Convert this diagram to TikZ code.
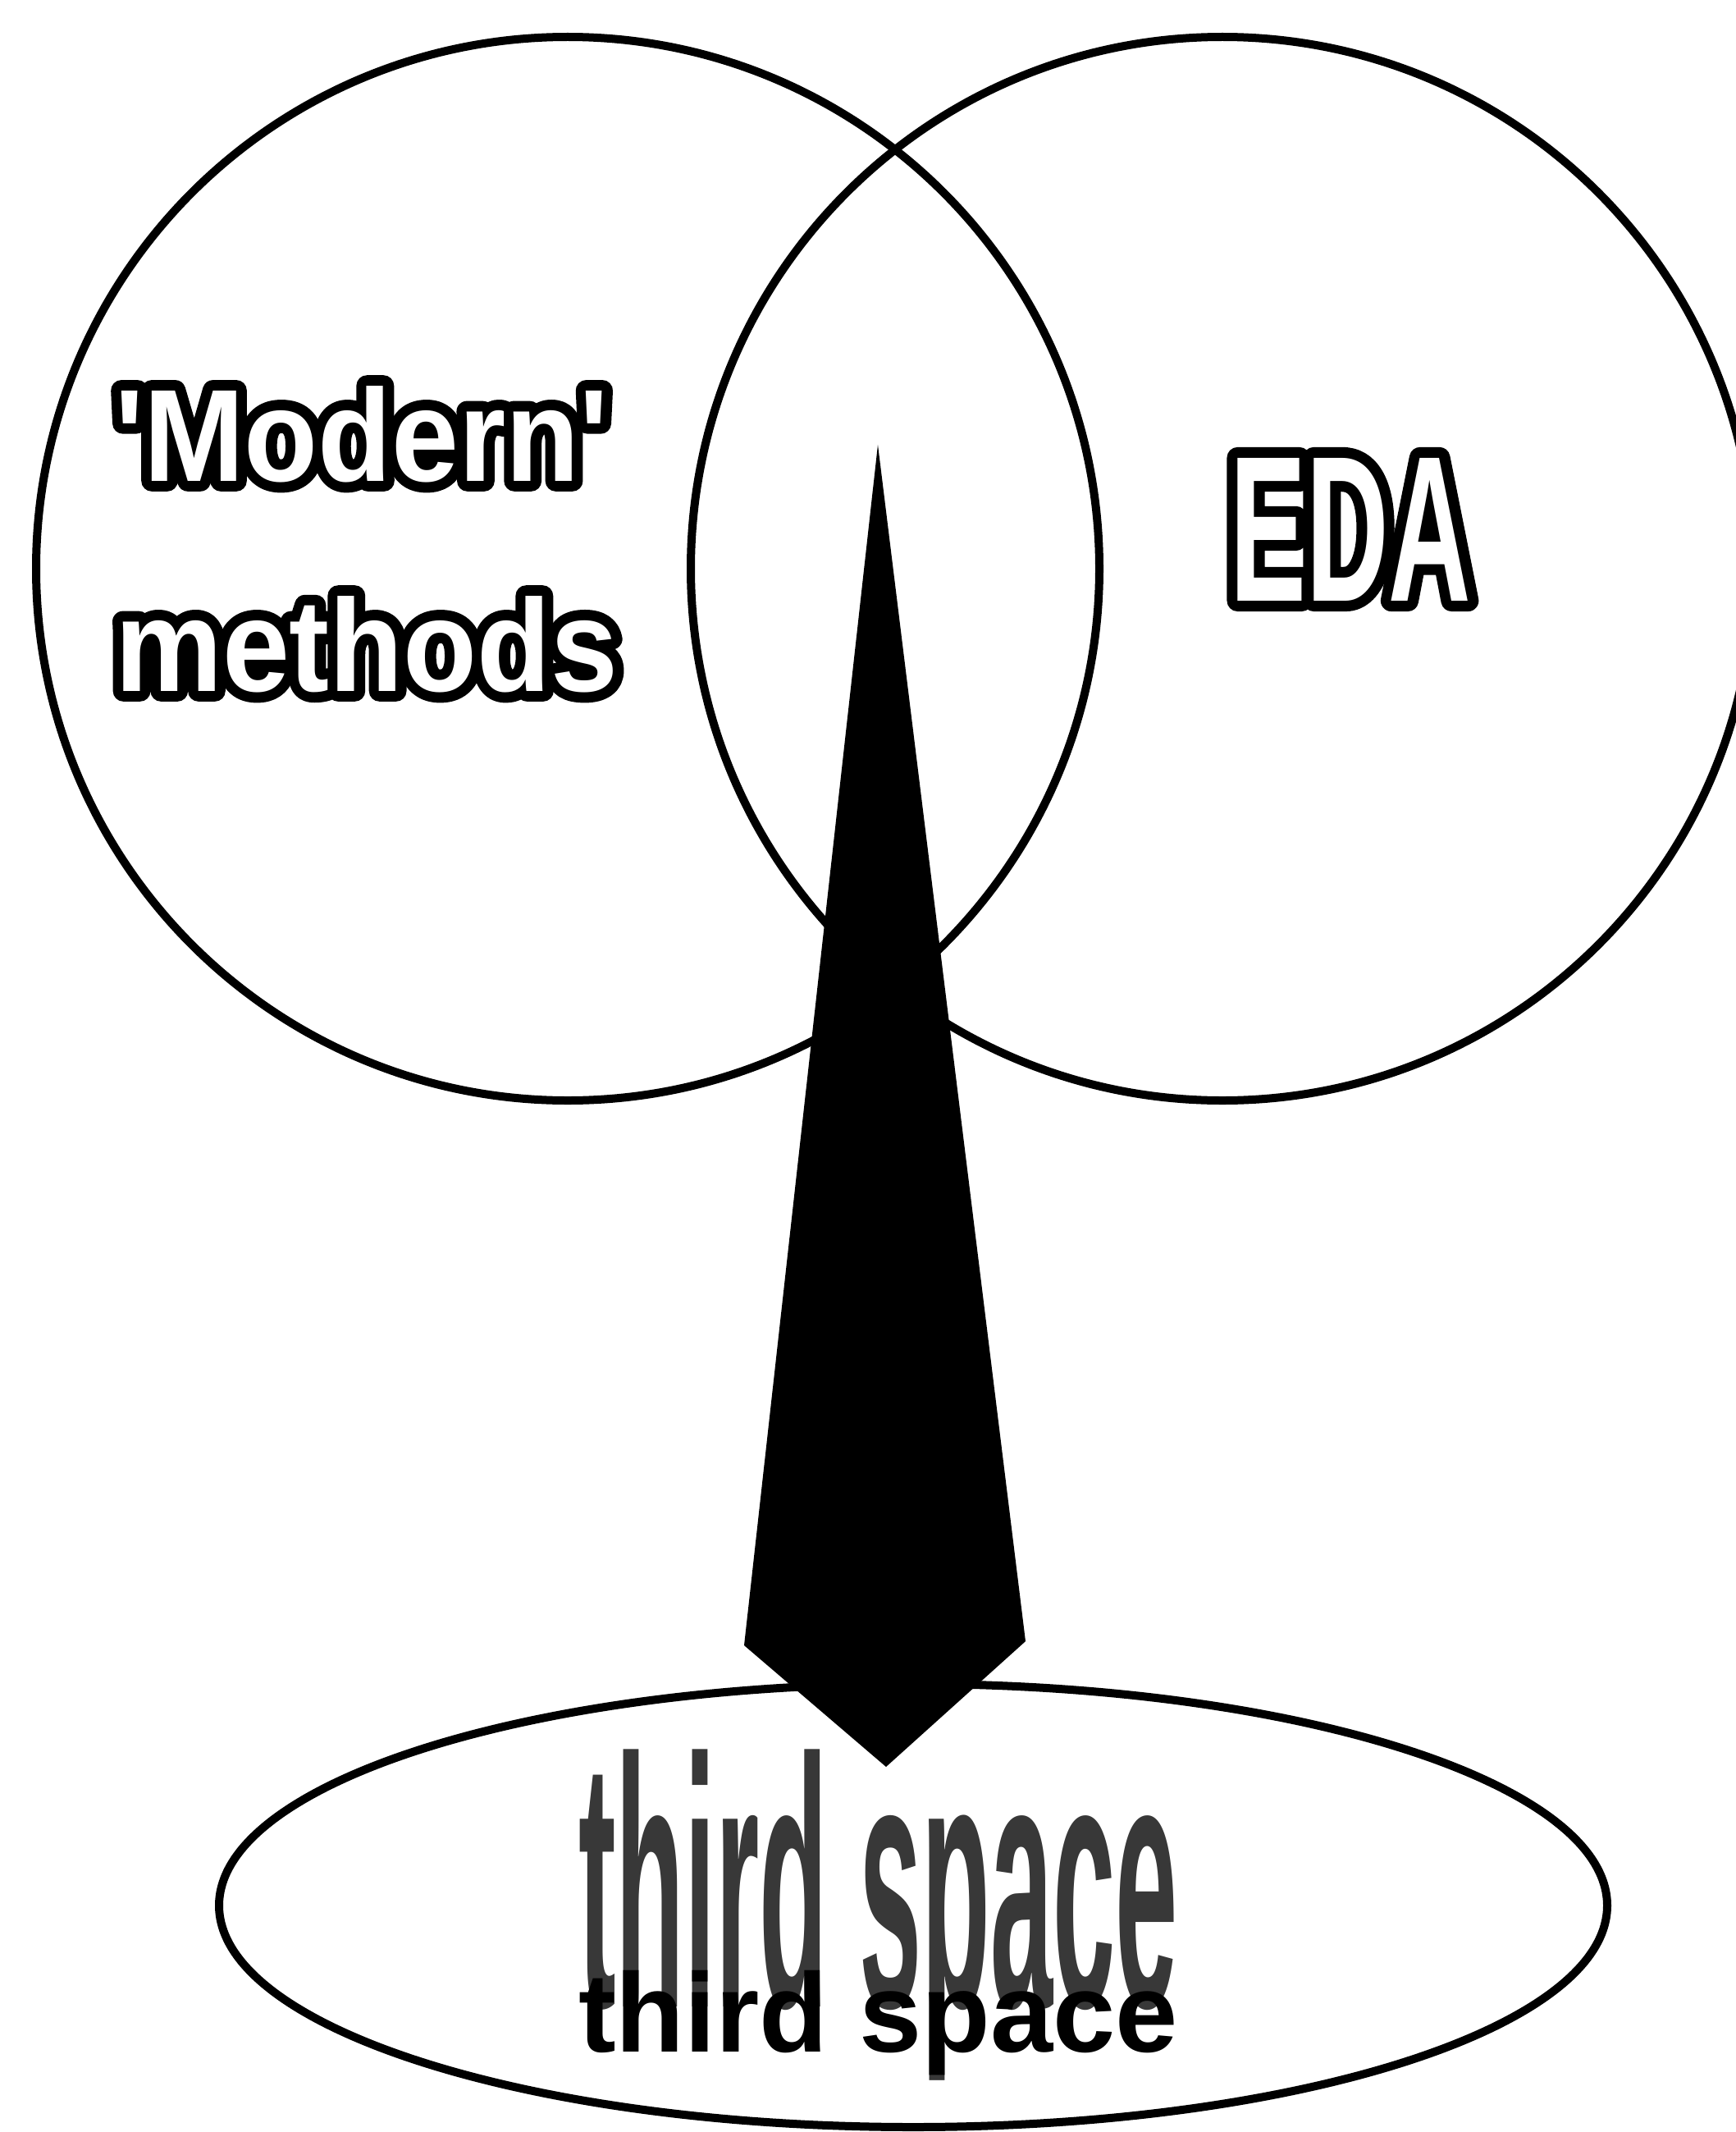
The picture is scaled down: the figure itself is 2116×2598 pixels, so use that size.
\documentclass[tikz,border=0pt]{standalone}
\usepackage{fontspec}
\usepackage{graphicx}
\usetikzlibrary{shapes.geometric}
\newfontfamily\modfont{Liberation Sans}[Ligatures=TeXOff, FakeStretch=0.92]
\newfontfamily\modfontout{Liberation Sans}[Ligatures=TeXOff, FakeStretch=0.92, FakeBold=16]
\newfontfamily\edafont{Liberation Sans}[Ligatures=TeXOff, FakeStretch=0.55]
\newfontfamily\edafontout{Liberation Sans}[Ligatures=TeXOff, FakeStretch=0.55, FakeBold=10.3]
\newfontfamily\thirdfont{Liberation Sans}
\tikzset{
  ring/.style={circle, draw=black, line width=10pt, minimum size=1296pt, inner sep=0pt},
  oval/.style={ellipse, draw=black, line width=10pt, minimum width=1692pt, minimum height=540pt, inner sep=0pt},
  label text/.style={anchor=base west, inner sep=0pt},
  wedge/.style={fill=black}
}
\begin{document}
\begin{tikzpicture}[x=1pt,y=-1pt]
\useasboundingbox (0,0) rectangle (2116,2598);
\clip (0,0) rectangle (2116,2598);
\fill[white] (0,0) rectangle (2116,2598);
% circles and ellipse
\node[ring] (modern) at (692,693) {};
\node[ring] (eda) at (1490,693) {};
\node[oval] (third) at (1113,2322) {};
% arrow
\coordinate (tip) at (1070,542);
\coordinate (rs) at (1250,2000);
\coordinate (pt) at (1080,2153);
\coordinate (ls) at (907,2005);
\fill[wedge] (tip) -- (rs) -- (pt) -- (ls) -- cycle;
% outlined texts: black emboldened copy under white copy
\node[label text, text=black] (modout) at (140,586)
  {\pgfsetroundjoin\modfontout\bfseries\fontsize{160}{160}\selectfont 'Modern'};
\node[label text, text=white] (modtext) at (140,586)
  {\modfont\bfseries\fontsize{160}{160}\selectfont 'Modern'};
\node[label text, text=black] (methout) at (140,842)
  {\pgfsetroundjoin\modfontout\bfseries\fontsize{160}{160}\selectfont methods};
\node[label text, text=white] (methtext) at (140,842)
  {\modfont\bfseries\fontsize{160}{160}\selectfont methods};
\node[label text, text=black] (edaout) at (1499,732)
  {\pgfsetroundjoin\edafontout\bfseries\fontsize{253}{253}\selectfont EDA};
\node[label text, text=white] (edatext) at (1499,732)
  {\edafont\bfseries\fontsize{253}{253}\selectfont EDA};
% third space: tall stippled shadow and the word itself
\node[anchor=south west, inner sep=0pt, text=black!78] (shadowtext) at (705,2536)
  {\scalebox{1}[3.16]{\thirdfont\bfseries\fontsize{137}{137}\selectfont third space}};
\node[label text] (spacetext) at (705,2500)
  {\thirdfont\bfseries\fontsize{137}{137}\selectfont third space};
\end{tikzpicture}
\end{document}
